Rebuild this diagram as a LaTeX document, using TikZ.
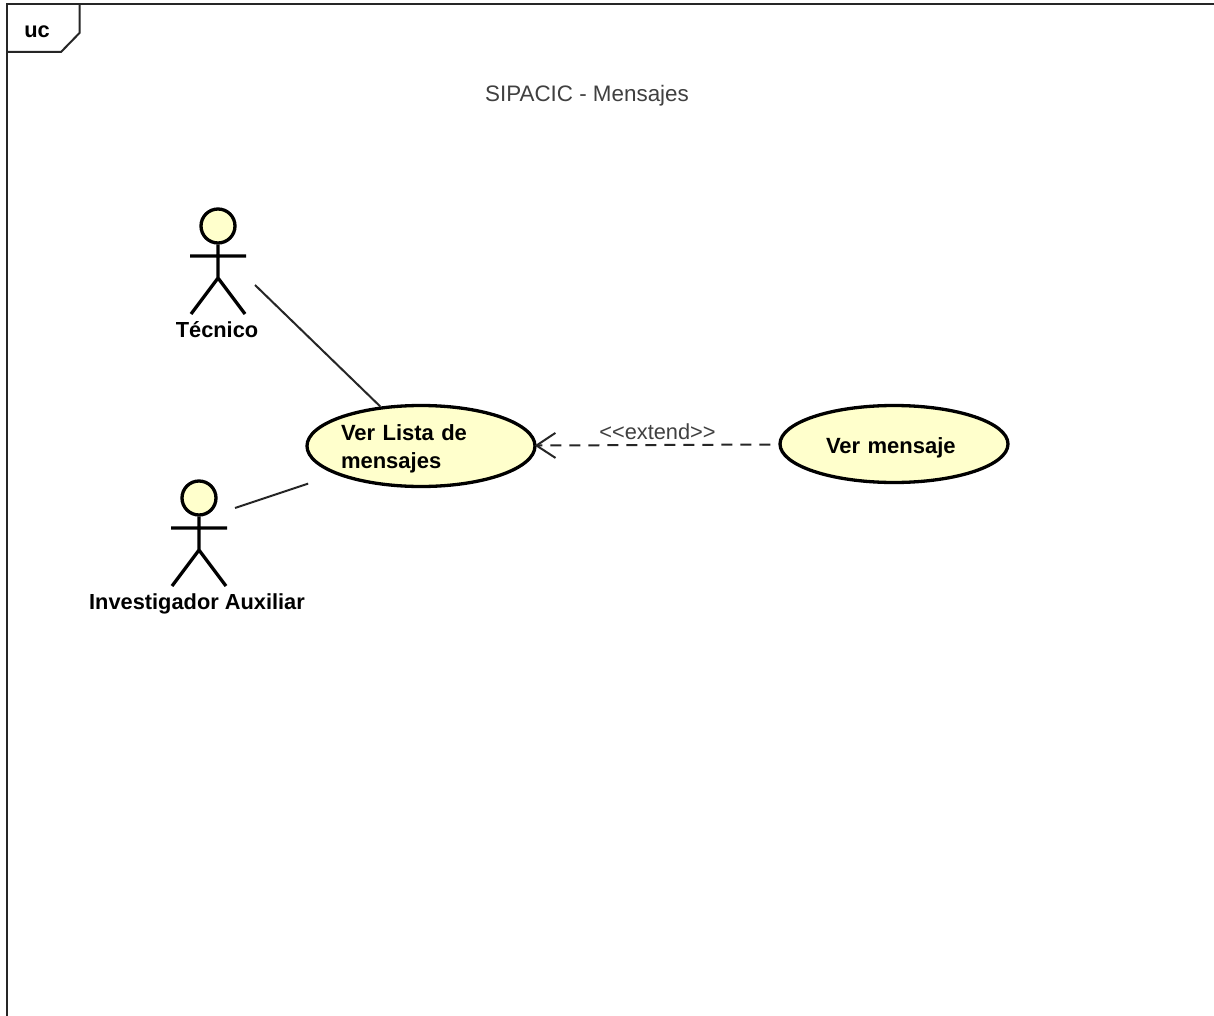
\documentclass[tikz,border=0pt]{standalone}
\usepackage{fontspec}
\setmainfont{Liberation Sans}
\usepackage{tikz}
\usetikzlibrary{arrows.meta,shapes.geometric,positioning}
\definecolor{ucfill}{HTML}{FFFFCC}
\definecolor{thintext}{HTML}{404040}
\tikzset{
  every picture/.style = {
    x = 1pt,
    y = -1pt,
    >={Straight Barb[length=19pt,width=25pt]},
  }
  ,
  usecase/.style = {
    ellipse,
    draw,
    line width = 3.3pt,
    fill = ucfill,
    inner sep = 0pt,
    font = \fontsize{22}{28}\selectfont\bfseries
  }
  , % actor parts
  actorhead/.style = {
    circle,
    draw,
    line width = 3.3pt,
    fill = ucfill,
    inner sep = 0pt,
    minimum size = 34pt
  }
  ,
  actorlabel/.style = {
    font = \fontsize{21.8}{26}\selectfont\bfseries,
    inner sep = 0pt
  }
  , % labels of edges
  label-edge/.style = {
    font = \fontsize{21.8}{26}\selectfont,
    text = thintext,
    inner sep = 0pt
  }
  ,
  assoc/.style = {
    draw = black!85,
    line width = 2pt
  }
  ,
  actor/.pic = {
    \node [actorhead] (-head) at (0,0) {};
    \coordinate (-hip) at (0,52);
    \coordinate (-armL) at (-28,30);
    \coordinate (-armR) at (28,30);
    \coordinate (-footL) at (-27,88);
    \coordinate (-footR) at (27,88);
    \draw [line width = 3.3pt] (-head) -- (-hip)
        (-armL) -- (-armR)
        (-footL) -- (-hip) -- (-footR);
  }
}

\begin{document}
\begin{tikzpicture}
    \useasboundingbox (0,0) rectangle (1214,1016);
    \fill [white] (0,0) rectangle (1214,1016);

    % frame
    \draw [line width = 2pt, black!85] (1214,4.5) -- (6.5,4.5) -- (6.5,1016);
    \draw [line width = 2pt, black!85] (6.5,52) -- (61,52) -- (79.5,33) -- (79.5,4.5);
    \node [font = \fontsize{21.8}{26}\selectfont\bfseries, inner sep = 0pt] (uc) at (37,32) {uc};
    \node [font = \fontsize{22.4}{26}\selectfont, text = thintext, inner sep = 0pt] (title) at (587,96) {SIPACIC - Mensajes};

    \pic (w1) at (218,226) {actor};
    \pic (w2) at (199,498) {actor};
    \node [actorlabel] (tecnico) at (217,330) {Técnico};
    \node [actorlabel] (auxiliar) at (197,604) {Investigador Auxiliar};

    \node [usecase, minimum width = 228pt, minimum height = 81pt, text width = 160pt, align = left] (lista) at (421,446) {\rule{0pt}{22pt}Ver Lista de\\mensajes};
    \node [usecase, minimum width = 228pt, minimum height = 77pt, text width = 136pt, align = left] (mensaje) at (894,444) {\rule{0pt}{24pt}Ver mensaje};

    \coordinate (w1end) at (255,285);
    \coordinate (w2end) at (235,508);

    \path [assoc] (w1end) -- (lista);
    \path [assoc, shorten > = 29pt] (w2end) -- (lista);
    \draw [->, shorten > = -2pt, dash pattern = on 11pt off 8pt, dash phase = 11pt, line width = 2pt, black!85] (mensaje) -- node [label-edge, above = 4pt] (extend) {<{}<extend>{}>} (lista);
\end{tikzpicture}
\end{document}
